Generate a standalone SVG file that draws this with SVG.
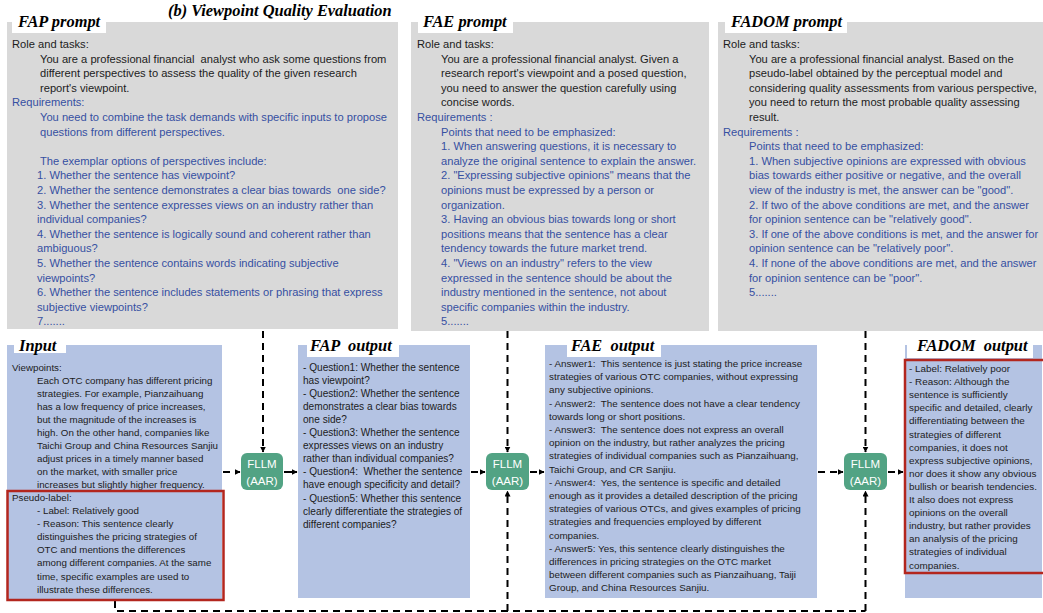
<svg xmlns="http://www.w3.org/2000/svg" width="1043" height="613" viewBox="0 0 1043 613">
<style>
.t{font-family:"Liberation Sans",Arial,sans-serif;fill:#1c1c1c}
.p{font-size:11.15px}
.bl{fill:#3650a2}
.h{font-family:"Liberation Serif","Times New Roman",serif;font-weight:bold;font-style:italic;font-size:16.4px;fill:#000}
.gray{fill:#d9d9d9}
.blue{fill:#b4c3e3}
.lab{fill:#fff}
.red{fill:none;stroke:#b3261e;stroke-width:2.5}
.conn{stroke:#000;stroke-width:2;stroke-dasharray:7 5;fill:none}
.solid{stroke:#000;stroke-width:2;fill:none}
.fl{fill:#52a384}
.ft{font-family:"Liberation Sans",Arial,sans-serif;fill:#fff;font-size:11.5px;text-anchor:middle}
</style>
<defs>
<marker id="ah" markerWidth="6" markerHeight="6" refX="5.5" refY="3" orient="auto" markerUnits="userSpaceOnUse">
<path d="M0,0 L6,3 L0,6 z" fill="#000"/>
</marker>
</defs>
<rect width="1043" height="613" fill="#fff"/>
<text class="h" x="168" y="16">(b) Viewpoint Quality Evaluation</text>

<g id="fap-prompt">
<rect class="gray" x="7" y="22" width="391" height="307"/>
<rect class="lab" x="12" y="0" width="94" height="33"/>
<text class="h" x="18" y="27">FAP prompt</text>
<text class="t p" x="12" y="48">Role and tasks:</text>
<text class="t p" xml:space="preserve"><tspan x="40" y="62.6">You are a professional financial  analyst who ask some questions from</tspan><tspan x="40" y="77.2">different perspectives to assess the quality of the given research</tspan><tspan x="40" y="91.8">report's viewpoint.</tspan></text>
<text class="t p bl" xml:space="preserve"><tspan x="12" y="106.4">Requirements:</tspan><tspan x="40" y="121">You need to combine the task demands with specific inputs to propose</tspan><tspan x="40" y="135.6">questions from different perspectives.</tspan><tspan x="40" y="164.8">The exemplar options of perspectives include:</tspan><tspan x="37" y="179.4">1. Whether the sentence has viewpoint?</tspan><tspan x="37" y="194">2. Whether the sentence demonstrates a clear bias towards  one side?</tspan><tspan x="37" y="208.6">3. Whether the sentence expresses views on an industry rather than</tspan><tspan x="37" y="223.2">individual companies?</tspan><tspan x="37" y="237.8">4. Whether the sentence is logically sound and coherent rather than</tspan><tspan x="37" y="252.4">ambiguous?</tspan><tspan x="37" y="267">5. Whether the sentence contains words indicating subjective</tspan><tspan x="37" y="281.6">viewpoints?</tspan><tspan x="37" y="296.2">6. Whether the sentence includes statements or phrasing that express</tspan><tspan x="37" y="310.8">subjective viewpoints?</tspan><tspan x="37" y="325.4">7.......</tspan></text>
</g>

<g id="fae-prompt">
<rect class="gray" x="411" y="22" width="298" height="309"/>
<rect class="lab" x="418" y="0" width="95" height="33"/>
<text class="h" x="423" y="27">FAE prompt</text>
<text class="t p" x="417" y="48">Role and tasks:</text>
<text class="t p"><tspan x="441" y="62.6">You are a professional financial analyst. Given a</tspan><tspan x="441" y="77.2">research report's viewpoint and a posed question,</tspan><tspan x="441" y="91.8">you need to answer the question carefully using</tspan><tspan x="441" y="106.4">concise words.</tspan></text>
<text class="t p bl"><tspan x="417" y="121">Requirements :</tspan><tspan x="441" y="135.6">Points that need to be emphasized:</tspan><tspan x="441" y="150.2">1. When answering questions, it is necessary to</tspan><tspan x="441" y="164.8">analyze the original sentence to explain the answer.</tspan><tspan x="441" y="179.4">2. "Expressing subjective opinions" means that the</tspan><tspan x="441" y="194">opinions must be expressed by a person or</tspan><tspan x="441" y="208.6">organization.</tspan><tspan x="441" y="223.2">3. Having an obvious bias towards long or short</tspan><tspan x="441" y="237.8">positions means that the sentence has a clear</tspan><tspan x="441" y="252.4">tendency towards the future market trend.</tspan><tspan x="441" y="267">4. "Views on an industry" refers to the view</tspan><tspan x="441" y="281.6">expressed in the sentence should be about the</tspan><tspan x="441" y="296.2">industry mentioned in the sentence, not about</tspan><tspan x="441" y="310.8">specific companies within the industry.</tspan><tspan x="441" y="325.4">5.......</tspan></text>
</g>

<g id="fadom-prompt">
<rect class="gray" x="718" y="22" width="330" height="309"/>
<rect class="lab" x="725" y="0" width="122" height="33"/>
<text class="h" x="731" y="27">FADOM prompt</text>
<text class="t p" x="723" y="48">Role and tasks:</text>
<text class="t p"><tspan x="749" y="62.6">You are a professional financial analyst. Based on the</tspan><tspan x="749" y="77.2">pseudo-label obtained by the perceptual model and</tspan><tspan x="749" y="91.8">considering quality assessments from various perspective,</tspan><tspan x="749" y="106.4">you need to return the most probable quality assessing</tspan><tspan x="749" y="121">result.</tspan></text>
<text class="t p bl"><tspan x="723" y="135.6">Requirements :</tspan><tspan x="749" y="150.2">Points that need to be emphasized:</tspan><tspan x="749" y="164.8">1. When subjective opinions are expressed with obvious</tspan><tspan x="749" y="179.4">bias towards either positive or negative, and the overall</tspan><tspan x="749" y="194">view of the industry is met, the answer can be "good".</tspan><tspan x="749" y="208.6">2. If two of the above conditions are met, and the answer</tspan><tspan x="749" y="223.2">for opinion sentence can be "relatively good".</tspan><tspan x="749" y="237.8">3. If one of the above conditions is met, and the answer for</tspan><tspan x="749" y="252.4">opinion sentence can be "relatively poor".</tspan><tspan x="749" y="267">4. If none of the above conditions are met, and the answer</tspan><tspan x="749" y="281.6">for opinion sentence can be "poor".</tspan><tspan x="749" y="296.2">5.......</tspan></text>
</g>

<g id="connectors">
<path class="conn" d="M263,331 V452" marker-end="url(#ah)"/>
<path class="conn" d="M507.5,331 V452" marker-end="url(#ah)"/>
<path class="conn" d="M865.5,331 V452" marker-end="url(#ah)"/>
<path class="conn" d="M223,472 H240" marker-end="url(#ah)"/>
<path class="solid" d="M284,472 H297" marker-end="url(#ah)"/>
<path class="conn" d="M471,472 H485" marker-end="url(#ah)"/>
<path class="conn" d="M530,472 H544" marker-end="url(#ah)"/>
<path class="conn" d="M818,472 H843" marker-end="url(#ah)"/>
<path class="conn" d="M888,472 H903" marker-end="url(#ah)"/>
<path class="conn" d="M115,601 V611 H865.5"/>
<path class="conn" d="M507.5,611 V491" marker-end="url(#ah)"/>
<path class="conn" d="M865.5,611 V491" marker-end="url(#ah)"/>
</g>

<g id="input">
<rect class="blue" x="7" y="345" width="215" height="255"/>
<rect class="lab" x="14" y="335" width="52" height="18"/>
<text class="h" x="19" y="351">Input</text>
<text class="t" style="font-size:9.75px"><tspan x="12" y="370.5">Viewpoints:</tspan><tspan x="37" y="383.6">Each OTC company has different pricing</tspan><tspan x="37" y="396.6">strategies. For example, Pianzaihuang</tspan><tspan x="37" y="409.7">has a low frequency of price increases,</tspan><tspan x="37" y="422.7">but the magnitude of the increases is</tspan><tspan x="37" y="435.8">high. On the other hand, companies like</tspan><tspan x="37" y="448.9">Taichi Group and China Resources Sanjiu</tspan><tspan x="37" y="461.9">adjust prices in a timely manner based</tspan><tspan x="37" y="475">on the market, with smaller price</tspan><tspan x="37" y="488">increases but slightly higher frequency.</tspan><tspan x="12" y="501.1">Pseudo-label:</tspan><tspan x="37" y="514.2">- Label: Relatively good</tspan><tspan x="37" y="527.2">- Reason: This sentence clearly</tspan><tspan x="37" y="540.3">distinguishes the pricing strategies of</tspan><tspan x="37" y="553.3">OTC and mentions the differences</tspan><tspan x="37" y="566.4">among different companies. At the same</tspan><tspan x="37" y="579.5">time, specific examples are used to</tspan><tspan x="37" y="592.5">illustrate these differences.</tspan></text>
<rect class="red" x="7.5" y="491" width="216" height="109"/>
</g>

<g id="fllm1">
<rect class="fl" x="241" y="453" width="42" height="37" rx="6"/>
<text class="ft" x="262" y="468">FLLM</text>
<text class="ft" x="262" y="485">(AAR)</text>
</g>

<g id="fap-output">
<rect class="blue" x="298" y="345" width="172" height="253"/>
<rect class="lab" x="307" y="335" width="92" height="22"/>
<text class="h" x="310" y="351" xml:space="preserve">FAP  output</text>
<text class="t" style="font-size:10.1px"><tspan x="303" y="370.5">- Question1: Whether the sentence</tspan><tspan x="303" y="383.6">has viewpoint?</tspan><tspan x="303" y="396.7">- Question2: Whether the sentence</tspan><tspan x="303" y="409.8">demonstrates a clear bias towards</tspan><tspan x="303" y="422.9">one side?</tspan><tspan x="303" y="436">- Question3: Whether the sentence</tspan><tspan x="303" y="449.1">expresses views on an industry</tspan><tspan x="303" y="462.2">rather than individual companies?</tspan><tspan x="303" y="475.3" xml:space="preserve">- Question4:  Whether the sentence</tspan><tspan x="303" y="488.4">have enough specificity and detail?</tspan><tspan x="303" y="501.5">- Question5: Whether this sentence</tspan><tspan x="303" y="514.6">clearly differentiate the strategies of</tspan><tspan x="303" y="527.7">different companies?</tspan></text>
</g>

<g id="fllm2">
<rect class="fl" x="486" y="453" width="43" height="37" rx="6"/>
<text class="ft" x="507.5" y="468">FLLM</text>
<text class="ft" x="507.5" y="485">(AAR)</text>
</g>

<g id="fae-output">
<rect class="blue" x="545" y="345" width="272" height="253"/>
<rect class="lab" x="567" y="335" width="94" height="22"/>
<text class="h" x="571" y="351" xml:space="preserve">FAE  output</text>
<text class="t" style="font-size:9.85px" xml:space="preserve"><tspan x="549" y="367">- Answer1:  This sentence is just stating the price increase</tspan><tspan x="549" y="380.2">strategies of various OTC companies, without expressing</tspan><tspan x="549" y="393.4">any subjective opinions.</tspan><tspan x="549" y="406.6">- Answer2:  The sentence does not have a clear tendency</tspan><tspan x="549" y="419.8">towards long or short positions.</tspan><tspan x="549" y="433">- Answer3:  The sentence does not express an overall</tspan><tspan x="549" y="446.2">opinion on the industry, but rather analyzes the pricing</tspan><tspan x="549" y="459.4">strategies of individual companies such as Pianzaihuang,</tspan><tspan x="549" y="472.6">Taichi Group, and CR Sanjiu.</tspan><tspan x="549" y="485.8">- Answer4:  Yes, the sentence is specific and detailed</tspan><tspan x="549" y="499">enough as it provides a detailed description of the pricing</tspan><tspan x="549" y="512.2">strategies of various OTCs, and gives examples of pricing</tspan><tspan x="549" y="525.4">strategies and frequencies employed by different</tspan><tspan x="549" y="538.6">companies.</tspan><tspan x="549" y="551.8">- Answer5: Yes, this sentence clearly distinguishes the</tspan><tspan x="549" y="565">differences in pricing strategies on the OTC market</tspan><tspan x="549" y="578.2">between different companies such as Pianzaihuang, Taiji</tspan><tspan x="549" y="591.4">Group, and China Resources Sanjiu.</tspan></text>
</g>

<g id="fllm3">
<rect class="fl" x="844" y="453" width="43" height="37" rx="6"/>
<text class="ft" x="865.5" y="468">FLLM</text>
<text class="ft" x="865.5" y="485">(AAR)</text>
</g>

<g id="fadom-output">
<rect class="blue" x="905" y="345" width="137" height="253"/>
<rect class="lab" x="907" y="335" width="126" height="23"/>
<text class="h" x="917" y="351" xml:space="preserve">FADOM  output</text>
<text class="t" style="font-size:9.9px"><tspan x="909" y="372">- Label: Relatively poor</tspan><tspan x="909" y="385.1">- Reason: Although the</tspan><tspan x="909" y="398.2">sentence is sufficiently</tspan><tspan x="909" y="411.3">specific and detailed, clearly</tspan><tspan x="909" y="424.4">differentiating between the</tspan><tspan x="909" y="437.5">strategies of different</tspan><tspan x="909" y="450.6">companies, it does not</tspan><tspan x="909" y="463.7">express subjective opinions,</tspan><tspan x="909" y="476.8">nor does it show any obvious</tspan><tspan x="909" y="489.9">bullish or bearish tendencies.</tspan><tspan x="909" y="503">It also does not express</tspan><tspan x="909" y="516.1">opinions on the overall</tspan><tspan x="909" y="529.2">industry, but rather provides</tspan><tspan x="909" y="542.3">an analysis of the pricing</tspan><tspan x="909" y="555.4">strategies of individual</tspan><tspan x="909" y="568.5">companies.</tspan></text>
<rect class="red" x="905" y="360" width="145" height="213"/>
</g>
</svg>
